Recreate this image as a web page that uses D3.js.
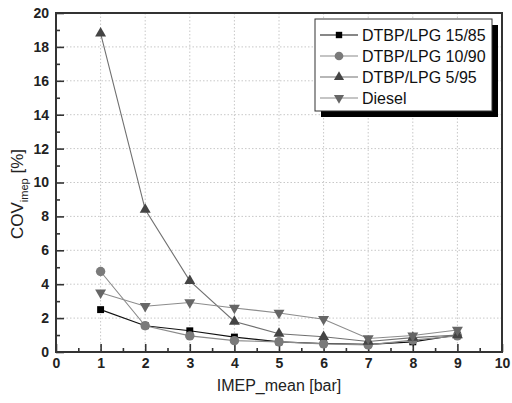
<!DOCTYPE html>
<html><head><meta charset="utf-8">
<script src="https://cdn.jsdelivr.net/npm/d3@7"></script>
<style>body{margin:0;background:#fff}svg{display:block}</style>
</head><body>
<svg id="c" width="512" height="403"></svg>
<script>
const xVals = [1,2,3,4,5,6,7,8,9];
const s1585 = [2.5,1.55,1.25,0.88,0.6,0.5,0.45,0.6,1.0];
const s1090 = [4.75,1.55,0.95,0.67,0.6,0.48,0.42,0.7,0.95];
const s595  = [18.8,8.4,4.2,1.8,1.08,0.9,0.62,0.85,1.0];
const diesel = [3.5,2.7,2.92,2.6,2.3,1.93,0.8,0.97,1.3];
const seriesNames = ["DTBP/LPG 15/85","DTBP/LPG 10/90","DTBP/LPG 5/95","Diesel"];
const xTicks = [0,1,2,3,4,5,6,7,8,9,10];
const yTicks = [0,2,4,6,8,10,12,14,16,18,20];

const series = [
  {name:seriesNames[0], vals:s1585, sym:d3.symbolSquare, fill:"#000", line:"#111", size:48},
  {name:seriesNames[1], vals:s1090, sym:d3.symbolCircle, fill:"#7a7a7a", line:"#8a8a8a", size:70},
  {name:seriesNames[2], vals:s595, sym:d3.symbolTriangle, fill:"#444", line:"#707070", size:52},
  {name:seriesNames[3], vals:diesel, sym:d3.symbolTriangle, fill:"#666", line:"#8c8c8c", size:52, flip:true}
];

const svg = d3.select("#c");
const L=56, R=502, T=13, B=352;
const x = d3.scaleLinear().domain([0,10]).range([L,R]);
const y = d3.scaleLinear().domain([0,20]).range([B,T]);

// grid
const g = svg.append("g");
g.selectAll(".gx").data(xTicks.slice(1,-1)).enter().append("line")
  .attr("x1",d=>x(d)).attr("x2",d=>x(d)).attr("y1",T).attr("y2",B)
  .attr("stroke","#c8c8c8").attr("stroke-dasharray","1.5,2");
g.selectAll(".gy").data(yTicks.slice(1,-1)).enter().append("line")
  .attr("y1",d=>y(d)).attr("y2",d=>y(d)).attr("x1",L).attr("x2",R)
  .attr("stroke","#c8c8c8").attr("stroke-dasharray","1.5,2");

// axes (ticks inside)
const xAxis = d3.axisBottom(x).tickValues(xTicks).tickSize(-8).tickPadding(6).tickFormat(d3.format("d"));
const xMinor = d3.axisBottom(x).tickValues(d3.range(0.5,10,1)).tickSize(-4).tickFormat("");
const yAxis = d3.axisLeft(y).tickValues(yTicks).tickSize(-8).tickPadding(7).tickFormat(d3.format("d"));
const yMinor = d3.axisLeft(y).tickValues(d3.range(1,20,2)).tickSize(-4).tickFormat("");

function styleAx(sel){
  sel.select(".domain").remove();
  sel.selectAll("line").attr("stroke","#333").attr("stroke-width",1.6);
  sel.selectAll("text").attr("font-family","Liberation Sans, Arial, sans-serif").attr("font-weight","bold").attr("font-size",14).attr("fill","#222");
}
styleAx(svg.append("g").attr("transform",`translate(0,${B})`).call(xAxis));
styleAx(svg.append("g").attr("transform",`translate(0,${B})`).call(xMinor));
styleAx(svg.append("g").attr("transform",`translate(${L},0)`).call(yAxis));
styleAx(svg.append("g").attr("transform",`translate(${L},0)`).call(yMinor));

// frame
svg.append("rect").attr("x",L).attr("y",T).attr("width",R-L).attr("height",B-T)
  .attr("fill","none").attr("stroke","#333").attr("stroke-width",2);

// lines & markers
const line = d3.line().x((d,i)=>x(xVals[i])).y(d=>y(d));
series.forEach(s=>{
  svg.append("path").datum(s.vals).attr("d",line).attr("fill","none").attr("stroke",s.line).attr("stroke-width",1.1);
});
series.forEach(s=>{
  svg.selectAll(null).data(s.vals).enter().append("path")
    .attr("d",d3.symbol().type(s.sym).size(s.size))
    .attr("transform",(d,i)=>`translate(${x(xVals[i])},${y(d)})${s.flip?" rotate(180)":""}`)
    .attr("fill",s.fill);
});

// axis titles
svg.append("text").attr("x",x(5)).attr("y",391).attr("text-anchor","middle")
  .attr("font-family","Liberation Sans, Arial, sans-serif").attr("font-size",16).attr("fill","#222")
  .text("IMEP_mean [bar]");
const yt = svg.append("text").attr("transform","translate(23,194) rotate(-90)").attr("text-anchor","middle")
  .attr("font-family","Liberation Sans, Arial, sans-serif").attr("font-size",17).attr("fill","#222");
yt.append("tspan").text("COV");
yt.append("tspan").attr("font-size",11).attr("dy",5).text("imep");
yt.append("tspan").attr("dy",-5).text(" [%]");

// legend
const lx=315, ly=19, lw=177, lh=92;
svg.append("rect").attr("x",lx+6).attr("y",ly+6).attr("width",lw).attr("height",lh).attr("fill","#000");
svg.append("rect").attr("x",lx).attr("y",ly).attr("width",lw).attr("height",lh).attr("fill","#fff").attr("stroke","#333").attr("stroke-width",1);
series.forEach((s,i)=>{
  const yy = ly+16+i*21;
  svg.append("line").attr("x1",lx+5).attr("x2",lx+43).attr("y1",yy).attr("y2",yy).attr("stroke",s.line).attr("stroke-width",1.2);
  svg.append("path").attr("d",d3.symbol().type(s.sym).size(s.size*0.85)).attr("transform",`translate(${lx+24},${yy})${s.flip?" rotate(180)":""}`).attr("fill",s.fill);
  svg.append("text").attr("x",lx+47).attr("y",yy+6).attr("font-family","Liberation Sans, Arial, sans-serif").attr("font-size",16).attr("fill","#111").text(s.name);
});
</script>
</body></html>
